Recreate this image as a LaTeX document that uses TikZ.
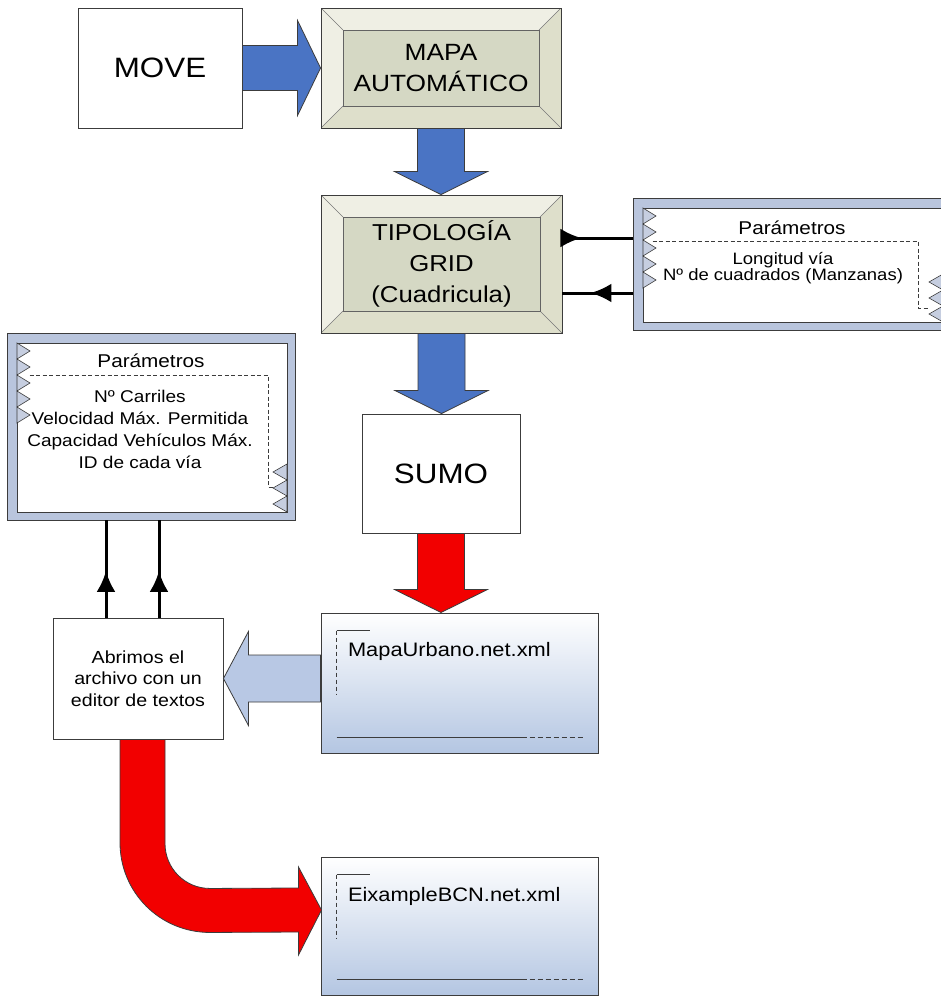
\documentclass[tikz,border=0pt]{standalone}
\usepackage{fontspec}
\setmainfont{Liberation Sans}[FakeStretch=1.12]
\usepackage{tikz}
\usetikzlibrary{positioning, arrows.meta, calc, decorations.markings}
\usepackage{xcolor}
\definecolor{Edge}{HTML}{3C3C3C}
\definecolor{BevLight}{HTML}{EFEFE4}
\definecolor{BevDark}{HTML}{DEDFCB}
\definecolor{BevFace}{HTML}{D5D8C4}
\definecolor{FlowBlue}{HTML}{4A74C4}
\definecolor{FlowRed}{HTML}{F20000}
\definecolor{PaleBlue}{HTML}{B8C8E4}
\definecolor{FileBlue}{HTML}{B4C6E2}
\definecolor{Band}{HTML}{B9C5DD}
\definecolor{Tooth}{HTML}{C6CEE0}

\tikzset{
  plainbox/.style={draw=Edge, line width=0.9pt, fill=white},
  bevelbox/.style={draw=Edge, line width=0.9pt, align=center,
    path picture={
      \coordinate (nw) at (path picture bounding box.north west);
      \coordinate (ne) at (path picture bounding box.north east);
      \coordinate (sw) at (path picture bounding box.south west);
      \coordinate (se) at (path picture bounding box.south east);
      \fill[BevDark] (nw) rectangle (se);
      \fill[BevLight] (nw) -- (ne) -- ($(ne)+(-22,22)$) -- ($(nw)+(22,22)$) -- cycle;
      \fill[BevLight] (nw) -- (sw) -- ($(sw)+(22,-22)$) -- ($(nw)+(22,22)$) -- cycle;
      \draw[Edge!70, line width=0.6pt] (nw) -- ($(nw)+(22,22)$) (ne) -- ($(ne)+(-22,22)$)
        (sw) -- ($(sw)+(22,-22)$) (se) -- ($(se)+(-22,-22)$);
      \filldraw[fill=BevFace, draw=Edge!80, line width=0.7pt] ($(nw)+(22,22)$) rectangle ($(se)+(-22,-22)$);
    }},
  parframe/.style={draw=Edge, line width=0.9pt, fill=Band,
    path picture={
      \coordinate (nw) at (path picture bounding box.north west);
      \coordinate (se) at (path picture bounding box.south east);
      \filldraw[fill=white, draw=Edge, line width=0.9pt] ($(nw)+(10,10)$) rectangle ($(se)+(-8,-8)$);
      \filldraw[fill=Tooth, draw=Edge, line width=0.6pt] ($(nw)+(10,10)$)
        \foreach \k in {1,...,5}{ -- ++(13,8) -- ++(-13,8) } -- cycle;
      \filldraw[fill=Tooth, draw=Edge, line width=0.6pt] ($(se)+(-8,-8)$)
        \foreach \k in {1,...,3}{ -- ++(-14,-8) -- ++(14,-8) } -- cycle;
    }},
  filebox/.style={draw=Edge, line width=1pt, top color=white, bottom color=FileBlue},
  flowblue/.style={fill=FlowBlue, draw=Edge, line width=0.8pt},
  flowred/.style={fill=FlowRed, draw=Edge, line width=0.8pt},
  flowpale/.style={fill=PaleBlue, draw=Edge, line width=0.8pt},
  wire/.style={line width=3pt, black},
  midtip/.style={postaction={decorate, decoration={markings,
    mark=at position #1 with {\arrow{Latex[length=21pt, width=19pt]}}}}}
}

\newcommand{\downblock}[3]{%
  \filldraw[#1] ($(#2.south)+(-23.5,0)$) -- ($(#2.south|-#3.north)+(-23.5,-23)$)
    -- ($(#2.south|-#3.north)+(-46.5,-23)$) -- (#2.south|-#3.north)
    -- ($(#2.south|-#3.north)+(46.5,-23)$) -- ($(#2.south|-#3.north)+(23.5,-23)$)
    -- ($(#2.south)+(23.5,0)$) -- cycle;}
\newcommand{\filedeco}[1]{%
  \draw[Edge, line width=0.9pt] ($(#1.north west)+(16,18)$) -- ++(33,0);
  \draw[Edge, line width=0.9pt, dash pattern=on 4pt off 3pt] ($(#1.north west)+(16,18)$) -- ++(0,64);
  \draw[Edge, line width=1.1pt] ($(#1.south west)+(16,-16)$) -- ++(185,0);
  \draw[Edge, line width=1.1pt, dash pattern=on 5pt off 3pt] ($(#1.south west)+(201,-16)$) -- ++(61,0);}

\begin{document}
\begin{tikzpicture}[x=1pt, y=-1pt]
\useasboundingbox (0,0) rectangle (941,996);
\clip (0,0) rectangle (941,996);
\fill[white] (0,0) rectangle (941,996);

\node[plainbox, minimum width=164, minimum height=120, font=\fontsize{28}{30}\selectfont] (move) at (160,68) {MOVE};
\node[bevelbox, minimum width=240, minimum height=120, font=\fontsize{23.5}{31}\selectfont] (mapa) at (441,68) {MAPA\\AUTOMÁTICO};
\node[bevelbox, minimum width=241, minimum height=138, font=\fontsize{23}{31}\selectfont] (tipo) at (441.5,264) {TIPOLOGÍA\\GRID\\(Cuadricula)};
\node[parframe, minimum width=318, minimum height=132] (parR) at (792,264) {};
\node[parframe, minimum width=288, minimum height=187] (parL) at (151,426.5) {};
\node[plainbox, minimum width=158, minimum height=119, font=\fontsize{28}{30}\selectfont] (sumo) at (441,473.5) {SUMO};
\node[filebox, minimum width=277, minimum height=140] (mapaurb) at (459.5,683) {};
\node[plainbox, minimum width=170, minimum height=121, align=center, font=\fontsize{17.5}{21.5}\selectfont] (abrimos) at (138,678.5) {Abrimos el\\archivo con un\\editor de textos};
\node[filebox, minimum width=277, minimum height=138] (eixample) at (459.5,926) {};

\draw[Edge, line width=0.9pt, dash pattern=on 4pt off 2.5pt] ($(parR.north west)+(20,44)$) -- ($(parR.north east)+(-33,44)$)
  -- ($(parR.south east)+(-33,-22)$) -- ($(parR.south east)+(-22,-22)$);
\draw[Edge, line width=0.9pt, dash pattern=on 4pt off 2.5pt] ($(parL.north west)+(23,43)$) -- ($(parL.north east)+(-27,43)$)
  -- ($(parL.south east)+(-27,-33)$) -- ($(parL.south east)+(-22,-33)$);
\node[anchor=base, font=\fontsize{18.5}{20}\selectfont] (parRtitle) at ($(parR.north)+(0,37)$) {Parámetros};
\node[align=center, font=\fontsize{16.5}{14}\selectfont] (parRtext) at ($(parR.north)+(-9,70.5)$) {Longitud vía\\Nº de cuadrados (Manzanas)};
\node[anchor=base, font=\fontsize{18.5}{20}\selectfont] (parLtitle) at ($(parL.north)+(0,35)$) {Parámetros};
\node[align=center, font=\fontsize{17}{22}\selectfont] (parLtext) at ($(parL.north)+(-11,97)$) {Nº Carriles\\Velocidad Máx. Permitida\\Capacidad Vehículos Máx.\\ID de cada vía};

\filedeco{mapaurb}
\filedeco{eixample}
\node[anchor=base west, font=\fontsize{19.5}{22}\selectfont] (mapaurbtext) at ($(mapaurb.north west)+(24,44)$) {MapaUrbano.net.xml};
\node[anchor=base west, font=\fontsize{19.5}{22}\selectfont] (eixampletext) at ($(eixample.north west)+(24,45)$) {EixampleBCN.net.xml};

\filldraw[flowblue] ($(move.east)+(0,-22.5)$) -- ($(mapa.west)+(-23,-22.5)$) -- ($(mapa.west)+(-23,-47.5)$)
  -- (mapa.west) -- ($(mapa.west)+(-23,47.5)$) -- ($(mapa.west)+(-23,22.5)$) -- ($(move.east)+(0,22.5)$) -- cycle;
\downblock{flowblue}{mapa}{tipo}
\downblock{flowblue}{tipo}{sumo}
\downblock{flowred}{sumo}{mapaurb}

\filldraw[flowpale] ($(mapaurb.west|-abrimos.east)+(0,-23.5)$) -- ($(abrimos.east)+(25,-23.5)$) -- ($(abrimos.east)+(25,-47)$)
  -- (abrimos.east) -- ($(abrimos.east)+(25,47)$) -- ($(abrimos.east)+(25,23.5)$) -- ($(mapaurb.west|-abrimos.east)+(0,23.5)$) -- cycle;

\filldraw[flowred] ($(abrimos.south)+(-18,0)$) -- ($(abrimos.south)+(-18,103)$)
  .. controls ($(abrimos.south)+(-18,153)$) and ($(abrimos.south)+(22,193)$) .. ($(abrimos.south)+(72,193)$)
  -- ($(eixample.west)+(-22,6)$) -- ($(eixample.west)+(-22,29)$) -- ($(eixample.west)+(1,-16)$)
  -- ($(eixample.west)+(-22,-59)$) -- ($(eixample.west)+(-22,-38)$) -- ($(abrimos.south)+(72,149)$)
  .. controls ($(abrimos.south)+(47,149)$) and ($(abrimos.south)+(27,129)$) .. ($(abrimos.south)+(27,104)$)
  -- ($(abrimos.south)+(27,0)$) -- cycle;

\draw[wire, midtip=0.27] ($(tipo.east)+(0,-26)$) coordinate (tipoout) -- (parR.west|-tipoout);
\draw[wire, midtip=0.6] ($(tipo.east)+(0,29)$) coordinate (tipoin) (parR.west|-tipoin) -- (tipoin);
\draw[wire, midtip=0.48] ($(abrimos.north)+(-32,0)$) coordinate (abrA) -- (abrA|-parL.south);
\draw[wire, midtip=0.48] ($(abrimos.north)+(21,0)$) coordinate (abrB) -- (abrB|-parL.south);
\end{tikzpicture}
\end{document}
